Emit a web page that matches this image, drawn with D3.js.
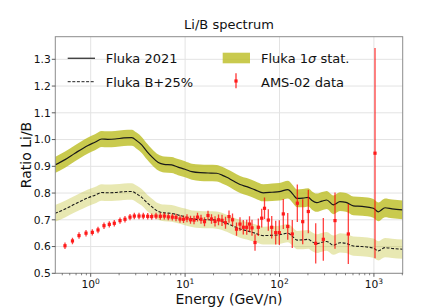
<!DOCTYPE html>
<html><head><meta charset="utf-8">
<script src="https://cdn.jsdelivr.net/npm/d3@7"></script>
<style>body{margin:0;background:#fff}svg{display:block;font-family:"DejaVu Sans",sans-serif}</style>
</head><body><svg id="c" width="447" height="308"></svg>
<script>
// Fluka model curves (energy in GeV/n)
const flukaE = [0.419,0.535,0.682,0.936,1.11,1.31,1.52,1.81,2.25,2.72,3.09,3.47,3.95,4.43,5.20,5.98,7.21,8.41,9.98,11.8,14.4,17.5,21.6,24.6,27.6,32.2,38.2,45.0,55.1,67.3,83.3,99.5,123,139,153,177,202,221,248,282,316,372,437,506,605,748,986,1113,1311,1556,2020];
const fluka = [0.905,0.925,0.949,0.978,0.990,1.002,1.001,1.002,1.006,1.007,0.995,0.980,0.955,0.936,0.914,0.907,0.905,0.897,0.889,0.880,0.876,0.875,0.874,0.867,0.859,0.846,0.832,0.824,0.812,0.801,0.803,0.805,0.813,0.795,0.780,0.781,0.784,0.772,0.764,0.770,0.774,0.756,0.768,0.765,0.752,0.750,0.743,0.730,0.745,0.741,0.737];
const flukaErr = [0.030,0.030,0.030,0.030,0.030,0.030,0.030,0.030,0.030,0.030,0.030,0.030,0.030,0.030,0.030,0.030,0.030,0.030,0.030,0.030,0.031,0.031,0.031,0.031,0.031,0.032,0.032,0.032,0.032,0.032,0.033,0.033,0.033,0.033,0.033,0.034,0.034,0.034,0.034,0.034,0.034,0.035,0.035,0.035,0.035,0.035,0.035,0.035,0.035,0.035,0.035];
const flukaB = [0.724,0.740,0.759,0.782,0.792,0.802,0.801,0.802,0.805,0.806,0.796,0.784,0.764,0.749,0.731,0.726,0.724,0.718,0.711,0.704,0.701,0.700,0.699,0.694,0.687,0.677,0.666,0.659,0.650,0.641,0.642,0.644,0.650,0.636,0.624,0.625,0.627,0.618,0.611,0.616,0.619,0.605,0.614,0.612,0.602,0.600,0.594,0.584,0.596,0.593,0.590];
const flukaBErr = [0.031,0.031,0.031,0.031,0.031,0.031,0.031,0.031,0.031,0.031,0.031,0.031,0.031,0.031,0.031,0.031,0.031,0.031,0.031,0.031,0.032,0.032,0.032,0.032,0.032,0.033,0.033,0.033,0.033,0.033,0.034,0.034,0.034,0.034,0.034,0.035,0.035,0.035,0.035,0.035,0.035,0.036,0.036,0.036,0.036,0.036,0.036,0.036,0.036,0.036,0.036];
// AMS-02 data
const amsE = [0.534,0.641,0.752,0.892,1.040,1.195,1.383,1.574,1.778,2.044,2.308,2.608,2.897,3.248,3.607,4.017,4.429,4.918,5.462,6.022,6.638,7.318,8.011,8.83,9.62,10.47,11.41,12.43,13.53,14.74,16.05,17.48,19.04,20.74,22.59,24.60,26.79,29.17,31.78,35.04,38.15,41.35,44.94,48.11,51.13,55.02,59.63,64.77,69.36,76.10,82.69,91.15,99.5,109.7,122.2,136.6,154.4,176.1,201.9,241.8,291.1,387.1,535.6,1027];
const amsRatio = [0.603,0.621,0.641,0.650,0.653,0.662,0.678,0.683,0.687,0.697,0.702,0.710,0.714,0.714,0.714,0.713,0.712,0.714,0.713,0.714,0.711,0.710,0.709,0.703,0.702,0.706,0.700,0.699,0.710,0.702,0.693,0.716,0.703,0.694,0.700,0.698,0.689,0.712,0.700,0.665,0.684,0.672,0.672,0.684,0.670,0.615,0.672,0.706,0.743,0.699,0.672,0.652,0.652,0.722,0.675,0.647,0.762,0.693,0.731,0.612,0.627,0.697,0.647,0.949];
const amsErr = [0.012,0.012,0.012,0.012,0.012,0.012,0.012,0.012,0.012,0.012,0.012,0.012,0.012,0.012,0.012,0.012,0.012,0.012,0.013,0.013,0.013,0.013,0.014,0.014,0.014,0.015,0.015,0.016,0.016,0.017,0.017,0.018,0.018,0.019,0.020,0.021,0.022,0.023,0.024,0.025,0.026,0.027,0.028,0.029,0.030,0.031,0.033,0.035,0.040,0.040,0.042,0.044,0.046,0.056,0.050,0.052,0.070,0.084,0.081,0.075,0.080,0.105,0.112,0.393];
const yTicks = [0.5,0.6,0.7,0.8,0.9,1.0,1.1,1.2,1.3];
const xTicks = [1,10,100,1000];
const xTickExp = ["0","1","2","3"];

const svg = d3.select("#c");
const L = 55.3, R = 402.7, T = 36.7, B = 273.3;
const x = d3.scaleLog().domain([0.4217, 2018]).range([L, R]);
const y = d3.scaleLinear().domain([0.5, 1.3845]).range([B, T]);

svg.append("defs").append("clipPath").attr("id","clip")
  .append("rect").attr("x",L).attr("y",T).attr("width",R-L).attr("height",B-T);

// grid
const g = svg.append("g");
g.selectAll("line.gy").data(yTicks).enter().append("line")
  .attr("x1",L).attr("x2",R).attr("y1",d=>y(d)).attr("y2",d=>y(d))
  .attr("stroke","#e3e3e3").attr("stroke-width",1);
g.selectAll("line.gx").data(xTicks).enter().append("line")
  .attr("y1",T).attr("y2",B).attr("x1",d=>x(d)).attr("x2",d=>x(d))
  .attr("stroke","#e3e3e3").attr("stroke-width",1);

const plot = svg.append("g").attr("clip-path","url(#clip)");
const idx = d3.range(flukaE.length);
const areaMain = d3.area().x(i=>x(flukaE[i])).y0(i=>y(fluka[i]-flukaErr[i])).y1(i=>y(fluka[i]+flukaErr[i])).curve(d3.curveMonotoneX);
const areaB = d3.area().x(i=>x(flukaE[i])).y0(i=>y(flukaB[i]-flukaBErr[i])).y1(i=>y(flukaB[i]+flukaBErr[i])).curve(d3.curveMonotoneX);
plot.append("path").attr("d",areaMain(idx)).attr("fill","#bcbd22").attr("fill-opacity",0.8);
plot.append("path").attr("d",areaB(idx)).attr("fill","#bcbd22").attr("fill-opacity",0.35);
const lineMain = d3.line().x(i=>x(flukaE[i])).y(i=>y(fluka[i])).curve(d3.curveMonotoneX);
const lineB = d3.line().x(i=>x(flukaE[i])).y(i=>y(flukaB[i])).curve(d3.curveMonotoneX);
plot.append("path").attr("d",lineMain(idx)).attr("fill","none").attr("stroke","#1a1a1a").attr("stroke-width",1.2);
plot.append("path").attr("d",lineB(idx)).attr("fill","none").attr("stroke","#1a1a1a").attr("stroke-width",1.1).attr("stroke-dasharray","3,1.6");

// AMS data
const aidx = d3.range(amsE.length);
plot.selectAll("line.err").data(aidx).enter().append("line")
  .attr("x1",i=>x(amsE[i])).attr("x2",i=>x(amsE[i]))
  .attr("y1",i=>y(amsRatio[i]-amsErr[i])).attr("y2",i=>y(amsRatio[i]+amsErr[i]))
  .attr("stroke","#ff0000").attr("stroke-opacity",0.75).attr("stroke-width",1.3);
plot.selectAll("rect.mk").data(aidx).enter().append("rect")
  .attr("x",i=>x(amsE[i])-1.6).attr("y",i=>y(amsRatio[i])-1.6)
  .attr("width",3.2).attr("height",3.2).attr("fill","#ff1a1a");

// frame
svg.append("rect").attr("x",L).attr("y",T).attr("width",R-L).attr("height",B-T)
  .attr("fill","none").attr("stroke","#8c8c8c").attr("stroke-width",1);

// y ticks
svg.selectAll("line.yt").data(yTicks).enter().append("line")
  .attr("x1",L-3.5).attr("x2",L).attr("y1",d=>y(d)).attr("y2",d=>y(d))
  .attr("stroke","#333").attr("stroke-width",0.8);
svg.selectAll("text.yl").data(yTicks).enter().append("text")
  .attr("x",L-4.5).attr("y",d=>y(d)+3.9).attr("text-anchor","end")
  .attr("font-size",10.7).attr("fill","#111").text(d=>d.toFixed(1));

// x ticks
const minor = [];
[0.1,1,10,100,1000].forEach(p=>{for(let k=2;k<=9;k++){const v=k*p; if(v>=0.4217&&v<=2018) minor.push(v);}});
svg.selectAll("line.xm").data(minor).enter().append("line")
  .attr("x1",d=>x(d)).attr("x2",d=>x(d)).attr("y1",B).attr("y2",B+2)
  .attr("stroke","#333").attr("stroke-width",0.6);
svg.selectAll("line.xt").data(xTicks).enter().append("line")
  .attr("x1",d=>x(d)).attr("x2",d=>x(d)).attr("y1",B).attr("y2",B+3.5)
  .attr("stroke","#333").attr("stroke-width",0.8);
const xl = svg.selectAll("text.xl").data(xTicks).enter().append("text")
  .attr("x",d=>x(d)).attr("y",288).attr("text-anchor","middle")
  .attr("font-size",10.7).attr("fill","#111");
xl.append("tspan").text("10");
xl.append("tspan").attr("dy",-4.5).attr("font-size",7.5).text((d,i)=>xTickExp[i]);

// labels
svg.append("text").attr("x",(L+R)/2).attr("y",28.5).attr("text-anchor","middle")
  .attr("font-size",13).attr("fill","#111").text("Li/B spectrum");
svg.append("text").attr("x",(L+R)/2).attr("y",304).attr("text-anchor","middle")
  .attr("font-size",14).attr("fill","#111").text("Energy (GeV/n)");
svg.append("text").attr("transform","translate(30.5,155) rotate(-90)").attr("text-anchor","middle")
  .attr("font-size",14).attr("fill","#111").text("Ratio Li/B");

// legend
const lg = svg.append("g").attr("font-size",13).attr("fill","#111");
lg.append("line").attr("x1",67.7).attr("x2",95).attr("y1",58.3).attr("y2",58.3).attr("stroke","#444").attr("stroke-width",1.4);
lg.append("text").attr("x",105.7).attr("y",63.3).text("Fluka 2021");
lg.append("line").attr("x1",67.7).attr("x2",95).attr("y1",81.7).attr("y2",81.7).attr("stroke","#222").attr("stroke-width",1).attr("stroke-dasharray","3,1.6");
lg.append("text").attr("x",105.7).attr("y",86.5).text("Fluka B+25%");
lg.append("rect").attr("x",222.7).attr("y",52.7).attr("width",27.3).attr("height",10.6).attr("fill","#bcbd22").attr("fill-opacity",0.8);
const t1 = lg.append("text").attr("x",261).attr("y",63.3);
t1.append("tspan").text("Fluka 1");
t1.append("tspan").attr("font-style","italic").text("σ");
t1.append("tspan").text(" stat.");
lg.append("line").attr("x1",236).attr("x2",236).attr("y1",73.3).attr("y2",88.3).attr("stroke","#ff0000").attr("stroke-opacity",0.8).attr("stroke-width",1.3);
lg.append("rect").attr("x",234.4).attr("y",79.4).attr("width",3.2).attr("height",3.2).attr("fill","#ff1a1a");
lg.append("text").attr("x",261).attr("y",86.5).text("AMS-02 data");
</script></body></html>
